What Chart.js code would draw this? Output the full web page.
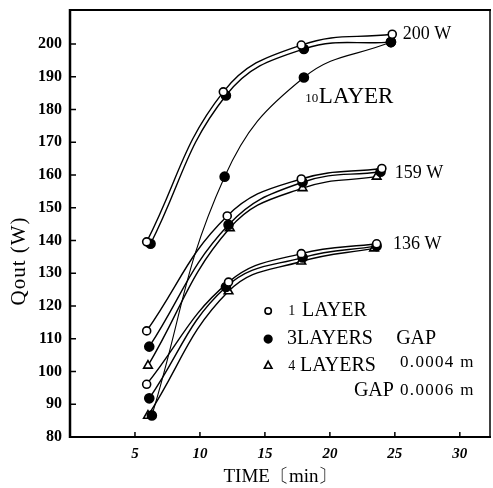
<!DOCTYPE html>
<html>
<head>
<meta charset="utf-8">
<script src="https://cdn.jsdelivr.net/npm/chart.js@4"></script>
<style>
  html, body { margin: 0; padding: 0; background: #fff; }
  #wrap { width: 493px; height: 488px; }
</style>
</head>
<body>
<div id="wrap"><canvas id="qoutChart" width="493" height="488"></canvas></div>
<script>
// --- data (TIME in min, Qout in W) ---
const t200_1 = [5.9, 11.8, 17.8, 24.8];
const q200_1 = [139.6, 185.4, 199.7, 203.0];
const t200_3 = [6.2, 12.0, 18.0, 24.7];
const q200_3 = [139.0, 184.3, 198.5, 200.6];

const t10 = [6.3, 11.9, 18.0, 24.7];
const q10 = [86.6, 159.5, 189.8, 200.6];

const t159_1 = [5.9, 12.1, 17.8, 24.0];
const q159_1 = [112.4, 147.5, 158.8, 162.0];
const t159_3 = [6.1, 12.2, 17.9, 23.9];
const q159_3 = [107.6, 144.8, 157.8, 161.0];
const t159_4 = [6.0, 12.3, 17.9, 23.6];
const q159_4 = [101.8, 143.8, 156.0, 159.5];

const t136_1 = [5.9, 12.2, 17.8, 23.6];
const q136_1 = [96.1, 127.3, 136.0, 139.0];
const t136_3 = [6.1, 12.0, 17.9, 23.6];
const q136_3 = [91.8, 125.8, 134.8, 138.3];
const t136_4 = [6.0, 12.2, 17.8, 23.4];
const q136_4 = [86.5, 124.5, 133.6, 137.6];

const xTicks = [5, 10, 15, 20, 25, 30];
const yTicks = [80, 90, 100, 110, 120, 130, 140, 150, 160, 170, 180, 190, 200];

const SERIF = '"Liberation Serif", "DejaVu Serif", serif';

function pts(xs, ys) {
  return xs.map((x, i) => ({ x: x, y: ys[i] }));
}

// marker styles: 1 layer = open circle, 3 layers = filled circle, 4 layers = open triangle
const open = { pointStyle: "circle", pointRadius: 4, pointBackgroundColor: "#fff" };
const filled = { pointStyle: "circle", pointRadius: 4.5, pointBackgroundColor: "#000" };
const tri = { pointStyle: "triangle", pointRadius: 5, pointBackgroundColor: "#fff" };

function series(label, xs, ys, marker, width) {
  return Object.assign({
    label: label,
    data: pts(xs, ys),
    borderColor: "#000",
    borderWidth: width || 1.4,
    pointBorderColor: "#000",
    pointBorderWidth: 1.6,
    tension: 0.42,
    fill: false,
  }, marker);
}

// text on the plot, placed in data units
const notes = [
  { text: "200 W", x: 25.6, y: 203.1, size: 18 },
  { text: "10", x: 18.1, y: 183.4, size: 13 },
  { text: "LAYER", x: 19.15, y: 183.8, size: 23 },
  { text: "159 W", x: 25.0, y: 160.6, size: 18 },
  { text: "136 W", x: 24.85, y: 138.9, size: 18 },
  { text: "1", x: 16.8, y: 118.5, size: 14 },
  { text: "LAYER", x: 17.85, y: 118.5, size: 20 },
  { text: "3LAYERS", x: 16.7, y: 109.9, size: 20 },
  { text: "GAP", x: 25.1, y: 109.9, size: 20 },
  { text: "4", x: 16.8, y: 101.7, size: 14 },
  { text: "LAYERS", x: 17.7, y: 101.7, size: 20 },
  { text: "0.0004 m", x: 25.4, y: 102.8, size: 17, spacing: "1.3px" },
  { text: "GAP", x: 21.85, y: 94.0, size: 20 },
  { text: "0.0006 m", x: 25.4, y: 94.2, size: 17, spacing: "1.3px" },
];
const legendMarks = [
  { style: "open", x: 15.25, y: 118.5 },
  { style: "filled", x: 15.25, y: 109.9 },
  { style: "tri", x: 15.25, y: 101.9 },
];

const decor = {
  id: "decor",
  afterDraw(chart) {
    const { ctx, chartArea: a, scales } = chart;
    const sx = scales.x, sy = scales.y;
    ctx.save();
    ctx.strokeStyle = "#000";
    ctx.fillStyle = "#000";

    // frame
    ctx.lineWidth = 2;
    ctx.beginPath();
    ctx.moveTo(a.left, a.top); ctx.lineTo(a.right, a.top);
    ctx.moveTo(a.left, a.bottom); ctx.lineTo(a.right, a.bottom);
    ctx.stroke();
    ctx.lineWidth = 2.5;
    ctx.beginPath();
    ctx.moveTo(a.left, a.top - 1); ctx.lineTo(a.left, a.bottom + 1);
    ctx.stroke();
    ctx.lineWidth = 1.5;
    ctx.beginPath();
    ctx.moveTo(a.right - 1, a.top); ctx.lineTo(a.right - 1, a.bottom);
    ctx.stroke();

    // inward tick marks
    ctx.lineWidth = 1.5;
    ctx.beginPath();
    xTicks.forEach(v => {
      const px = sx.getPixelForValue(v);
      ctx.moveTo(px, a.bottom); ctx.lineTo(px, a.bottom - 5);
    });
    yTicks.forEach(v => {
      const py = sy.getPixelForValue(v);
      ctx.moveTo(a.left, py); ctx.lineTo(a.left + 6, py);
    });
    ctx.stroke();

    // annotations
    ctx.textBaseline = "middle";
    ctx.textAlign = "left";
    notes.forEach(n => {
      ctx.font = n.size + "px " + SERIF;
      ctx.letterSpacing = n.spacing || "0px";
      ctx.fillText(n.text, sx.getPixelForValue(n.x), sy.getPixelForValue(n.y));
    });
    ctx.letterSpacing = "0px";

    // legend markers
    ctx.lineWidth = 1.6;
    legendMarks.forEach(m => {
      const px = sx.getPixelForValue(m.x), py = sy.getPixelForValue(m.y);
      ctx.beginPath();
      if (m.style === "tri") {
        ctx.moveTo(px, py - 4); ctx.lineTo(px + 3.8, py + 3); ctx.lineTo(px - 3.8, py + 3); ctx.closePath();
        ctx.fillStyle = "#fff"; ctx.fill(); ctx.stroke();
      } else {
        ctx.arc(px, py, m.style === "open" ? 3.2 : 3.8, 0, Math.PI * 2);
        ctx.fillStyle = m.style === "open" ? "#fff" : "#000";
        ctx.fill(); ctx.stroke();
      }
    });

    // y axis title
    ctx.fillStyle = "#000";
    ctx.translate(19, 261);
    ctx.rotate(-Math.PI / 2);
    ctx.textAlign = "center";
    ctx.font = "21px " + SERIF;
    ctx.letterSpacing = "1px";
    ctx.fillText("Qout (W)", 0, 0);
    ctx.restore();
  }
};

new Chart(document.getElementById("qoutChart"), {
  type: "line",
  data: {
    datasets: [
      series("200W 1 layer", t200_1, q200_1, open),
      series("200W 3 layers", t200_3, q200_3, filled),
      series("10 layer", t10, q10, filled, 1.1),
      series("159W 1 layer", t159_1, q159_1, open),
      series("159W 3 layers", t159_3, q159_3, filled),
      series("159W 4 layers", t159_4, q159_4, tri),
      series("136W 1 layer", t136_1, q136_1, open),
      series("136W 3 layers", t136_3, q136_3, filled),
      series("136W 4 layers", t136_4, q136_4, tri),
    ],
  },
  options: {
    responsive: false,
    animation: false,
    devicePixelRatio: 1,
    layout: { autoPadding: false, padding: { top: 10, right: 2, left: 0, bottom: 0 } },
    plugins: { legend: { display: false }, tooltip: { enabled: false } },
    scales: {
      x: {
        type: "linear",
        min: 0,
        max: 32.4,
        afterFit: s => { s.height = 51; s.paddingLeft = 0; s.paddingRight = 0; },
        afterBuildTicks: s => { s.ticks = xTicks.map(v => ({ value: v })); },
        grid: { display: false, drawTicks: false },
        border: { display: false },
        ticks: {
          padding: 8,
          color: "#000",
          font: { family: SERIF, size: 15, weight: "bold", style: "italic" },
        },
        title: {
          display: true,
          text: "TIME〔min〕",
          color: "#000",
          padding: { top: 0, bottom: 0 },
          font: { family: SERIF, size: 19 },
        },
      },
      y: {
        type: "linear",
        min: 80,
        max: 210.4,
        afterFit: s => { s.width = 70; s.paddingTop = 0; s.paddingBottom = 0; },
        afterBuildTicks: s => { s.ticks = yTicks.map(v => ({ value: v })); },
        grid: { display: false, drawTicks: false },
        border: { display: false },
        ticks: {
          padding: 8,
          color: "#000",
          font: { family: SERIF, size: 16, weight: "bold" },
        },
      },
    },
  },
  plugins: [decor],
});
</script>
</body>
</html>
